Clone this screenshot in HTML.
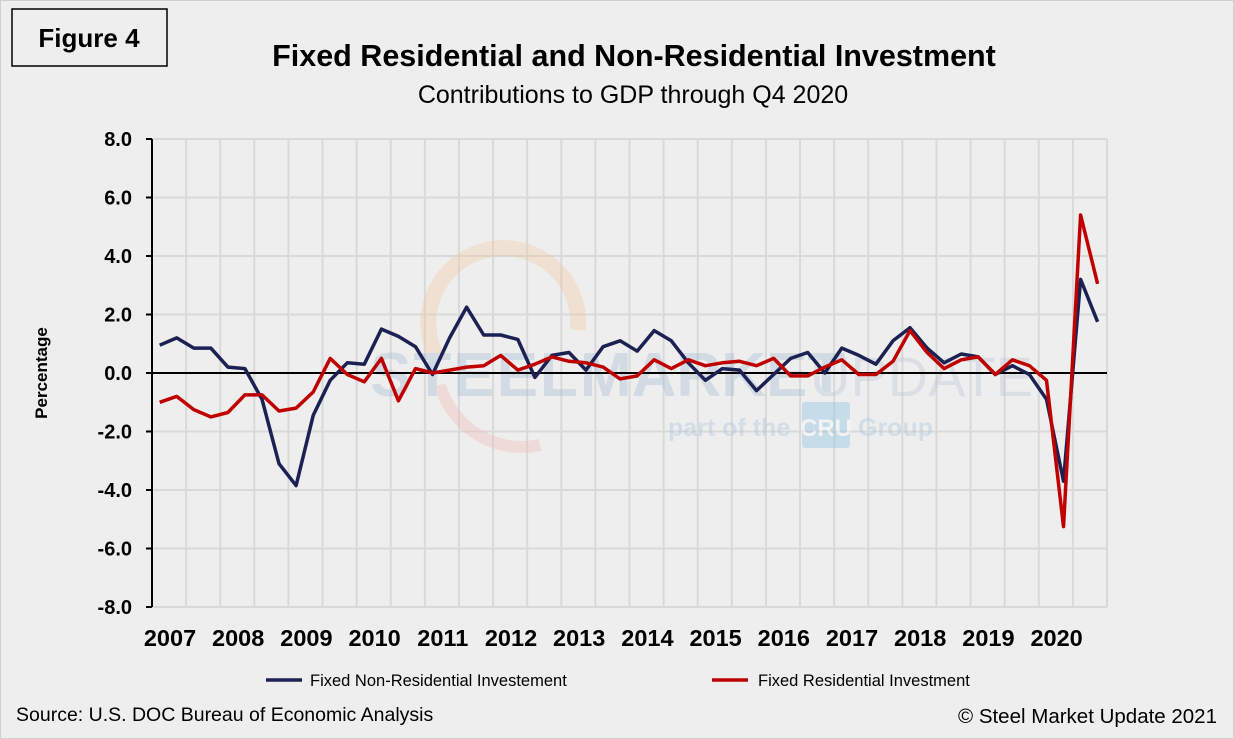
<!DOCTYPE html>
<html><head><meta charset="utf-8"><style>
body{margin:0;background:#eeeeee;}
svg{display:block;font-family:"Liberation Sans",sans-serif;}
</style></head><body>
<svg id="s" width="1234" height="739" xmlns="http://www.w3.org/2000/svg">
<rect x="0.5" y="0.5" width="1233" height="738" fill="#eeeeee" stroke="#cfcfcf"/>
<rect x="12" y="9" width="155" height="57" fill="none" stroke="#000" stroke-width="1.5"/>
<text x="89" y="47" font-size="26" font-weight="bold" text-anchor="middle">Figure 4</text>
<text x="634" y="66" font-size="30.5" font-weight="bold" text-anchor="middle">Fixed Residential and Non-Residential Investment</text>
<text x="633" y="103" font-size="25" text-anchor="middle">Contributions to GDP through Q4 2020</text>
<g id="grid" stroke="#d9d9d9" stroke-width="2"></g>
<g opacity="0.35">
<path d="M438 360 A75 75 0 1 1 578 330" fill="none" stroke="#f2c9a0" stroke-width="16"/>
<path d="M440 385 A85 85 0 0 0 540 445" fill="none" stroke="#f0b8b0" stroke-width="12"/>
<text x="370" y="396" font-size="62" font-weight="bold" fill="#9fb6cf" letter-spacing="2">STEEL</text>
<text x="580" y="396" font-size="62" font-weight="bold" fill="#9fb6cf">MARKET</text>
<text x="810" y="396" font-size="56" fill="#b8c4d4">UPDATE</text>
<text x="668" y="436" font-size="25" font-weight="bold" fill="#9fc0dc">part of the</text>
<rect x="802" y="402" width="48" height="46" rx="3" fill="#7fc0e0"/>
<text x="826" y="436" font-size="24" font-weight="bold" fill="#fff" text-anchor="middle">CRU</text>
<text x="858" y="436" font-size="25" font-weight="bold" fill="#9fc0dc">Group</text>
</g>
<g id="axis"></g>
<polyline id="blue" fill="none" stroke="#1b2152" stroke-width="3.5" stroke-linejoin="round"/>
<polyline id="red" fill="none" stroke="#c00000" stroke-width="3.5" stroke-linejoin="round"/>
<text transform="translate(47,373) rotate(-90)" font-size="17" font-weight="bold" text-anchor="middle">Percentage</text>
<line x1="266" y1="680" x2="302" y2="680" stroke="#1b2152" stroke-width="3.5"/>
<text x="310" y="686" font-size="16.5">Fixed Non-Residential Investement</text>
<line x1="712" y1="680" x2="748" y2="680" stroke="#c00000" stroke-width="3.5"/>
<text x="758" y="686" font-size="16.5">Fixed Residential Investment</text>
<text x="16" y="721" font-size="19.5">Source: U.S. DOC Bureau of Economic Analysis</text>
<text x="1217" y="723" font-size="20.5" text-anchor="end">© Steel Market Update 2021</text>
</svg>
<script>
const ns="http://www.w3.org/2000/svg";
const L=152,R=1107,T=139,B=607,Z=373,S=29.25;
const g=document.getElementById('grid'),a=document.getElementById('axis');
function el(p,tag,at,txt){const e=document.createElementNS(ns,tag);for(const k in at)e.setAttribute(k,at[k]);if(txt)e.textContent=txt;p.appendChild(e);return e;}
for(let i=0;i<=28;i++){const x=L+i*(R-L)/28;el(g,'line',{x1:x,y1:T,x2:x,y2:B});}
for(let v=-8;v<=8;v+=2){const y=Z-v*S;if(v!=0)el(g,'line',{x1:L,y1:y,x2:R,y2:y});
el(a,'line',{x1:146,y1:y,x2:L,y2:y,stroke:'#000','stroke-width':2});
el(a,'text',{x:132,y:y+7,'font-size':20,'font-weight':'bold','text-anchor':'end'},v.toFixed(1));}
el(a,'line',{x1:L,y1:T,x2:L,y2:B,stroke:'#000','stroke-width':2});
el(a,'line',{x1:L,y1:Z,x2:R,y2:Z,stroke:'#000','stroke-width':2});
for(let k=0;k<14;k++){el(a,'text',{x:170+68.2*k,y:646,'font-size':23.5,'font-weight':'bold','text-anchor':'middle'},String(2007+k));}
const blue=[0.95,1.2,0.85,0.85,0.2,0.15,-0.9,-3.1,-3.85,-1.45,-0.25,0.35,0.3,1.5,1.25,0.9,-0.05,1.2,2.25,1.3,1.3,1.15,-0.15,0.6,0.7,0.1,0.9,1.1,0.75,1.45,1.1,0.35,-0.25,0.15,0.1,-0.6,-0.05,0.5,0.7,0.0,0.85,0.6,0.3,1.1,1.55,0.85,0.35,0.65,0.55,-0.05,0.25,-0.05,-0.9,-3.7,3.2,1.75];
const red=[-1.0,-0.8,-1.25,-1.5,-1.35,-0.75,-0.75,-1.3,-1.2,-0.65,0.5,-0.05,-0.3,0.5,-0.95,0.15,0.0,0.1,0.2,0.25,0.6,0.1,0.3,0.55,0.4,0.35,0.2,-0.2,-0.1,0.45,0.15,0.45,0.25,0.35,0.4,0.25,0.5,-0.1,-0.1,0.2,0.45,-0.05,-0.05,0.4,1.45,0.7,0.15,0.45,0.55,-0.05,0.45,0.25,-0.25,-5.25,5.4,3.05];
function pts(d){return d.map((v,i)=>(L+(R-L)/56*(i+0.45)).toFixed(1)+','+(Z-v*S).toFixed(1)).join(' ');}
document.getElementById('blue').setAttribute('points',pts(blue));
document.getElementById('red').setAttribute('points',pts(red));
</script>
</body></html>
